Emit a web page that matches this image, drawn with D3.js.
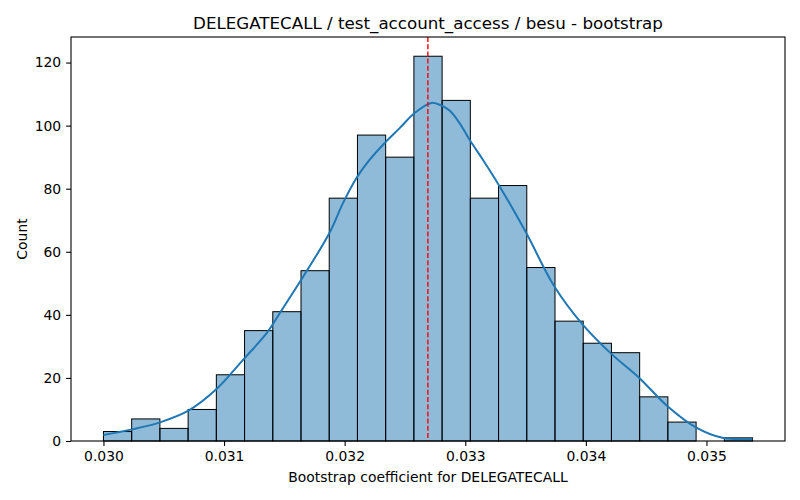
<!DOCTYPE html>
<html>
<head>
<meta charset="utf-8">
<script src="https://cdn.jsdelivr.net/npm/d3@7"></script>
<style>
  body { margin: 0; background: #fff; }
  text { font-family: "DejaVu Sans", sans-serif; fill: #000; }
</style>
</head>
<body>
<svg id="hist"></svg>
<script>
// histogram bins (bootstrap coefficient)
let binStart = 0.0300;
let binWidth = 0.000234;
let binCounts = [3, 7, 4, 10, 21, 35, 41, 54, 77, 97, 90, 122, 108, 77, 81, 55, 38, 31, 28, 14, 6, 0, 1];

// kde curve (x value, scaled count)
let kdeX = [0.03000, 0.030229, 0.030469, 0.030704, 0.030933, 0.031159, 0.031353, 0.031463,
  0.031684, 0.031877, 0.031987, 0.032098, 0.032208, 0.032332, 0.032456, 0.032580, 0.032718,
  0.032787, 0.032870, 0.032953, 0.033036, 0.033146, 0.033284, 0.033505, 0.033739, 0.033974,
  0.034209, 0.034443, 0.034677, 0.034912, 0.035132, 0.035381];
let kdeY = [1.9, 3.6, 5.9, 9.6, 16.3, 25.8, 34.2, 40.6,
  53.8, 66.2, 75.5, 83.4, 89.2, 94.5, 99.2, 104.0, 107.2,
  106.6, 104.8, 100.8, 95.5, 89.2, 80.8, 66.0, 49.0, 36.9,
  27.7, 20.0, 11.0, 4.3, 1.0, 0.6];

let meanValue = 0.03269;

let xTicks = [0.030, 0.031, 0.032, 0.033, 0.034, 0.035];
let yTicks = [0, 20, 40, 60, 80, 100, 120];

let title = 'DELEGATECALL / test_account_access / besu - bootstrap';
let xLabel = 'Bootstrap coefficient for DELEGATECALL';
let yLabel = 'Count';

// layout
let config = { svg: {}, margin: {}, plot: {} };
config.svg.width = 800;
config.svg.height = 500;
config.margin.top = 37;
config.margin.left = 71;
config.margin.right = 15;
config.margin.bottom = 59;
config.plot.width = config.svg.width - config.margin.left - config.margin.right;
config.plot.height = config.svg.height - config.margin.top - config.margin.bottom;

let svg = d3.select('#hist')
  .attr('width', config.svg.width)
  .attr('height', config.svg.height);

let bins = binCounts.map((c, i) => ({
  x0: binStart + i * binWidth,
  x1: binStart + (i + 1) * binWidth,
  count: c
}));

let dataMin = bins[0].x0;
let dataMax = bins[bins.length - 1].x1;
let pad = (dataMax - dataMin) * 0.05;

let xScale = d3.scaleLinear()
  .domain([dataMin - pad, dataMax + pad])
  .range([0, config.plot.width]);

let yMax = d3.max(binCounts) * 1.05;
let yScale = d3.scaleLinear()
  .domain([0, yMax])
  .range([config.plot.height, 0]);

let plot = svg.append('g').attr('transform', translate(config.margin.left, config.margin.top));

// bars
plot.append('g').selectAll('rect')
  .data(bins.filter(d => d.count > 0))
  .join('rect')
  .attr('x', d => xScale(d.x0))
  .attr('y', d => yScale(d.count))
  .attr('width', d => xScale(d.x1) - xScale(d.x0))
  .attr('height', d => yScale(0) - yScale(d.count))
  .attr('fill', '#1f77b4')
  .attr('fill-opacity', 0.5)
  .attr('stroke', '#000')
  .attr('stroke-width', 1);

// kde line
let kde = kdeX.map((x, i) => [x, kdeY[i]]);
plot.append('path')
  .datum(kde)
  .attr('fill', 'none')
  .attr('stroke', '#1f77b4')
  .attr('stroke-width', 2)
  .attr('d', d3.line()
    .x(d => xScale(d[0]))
    .y(d => yScale(d[1]))
    .curve(d3.curveCatmullRom.alpha(0.5)));

// mean line
plot.append('line')
  .attr('x1', xScale(meanValue))
  .attr('x2', xScale(meanValue))
  .attr('y1', 0)
  .attr('y2', config.plot.height)
  .attr('stroke', 'red')
  .attr('stroke-width', 1.4)
  .attr('stroke-dasharray', '5,2.2');

// axes
let xAxis = d3.axisBottom(xScale)
  .tickValues(xTicks)
  .tickFormat(d3.format('.3f'))
  .tickSizeInner(4.9)
  .tickSizeOuter(0)
  .tickPadding(4.9);

let yAxis = d3.axisLeft(yScale)
  .tickValues(yTicks)
  .tickSizeInner(4.9)
  .tickSizeOuter(0)
  .tickPadding(4.9);

let xGroup = plot.append('g').attr('transform', translate(0, config.plot.height)).call(xAxis);
let yGroup = plot.append('g').call(yAxis);

[xGroup, yGroup].forEach(g => {
  g.select('.domain').remove();
  g.selectAll('.tick line').attr('stroke', '#000').attr('stroke-width', 1.1);
  g.selectAll('.tick text')
    .style('font-family', '"DejaVu Sans", sans-serif')
    .style('font-size', '13.9px')
    .attr('fill', '#000');
});

// frame
plot.append('rect')
  .attr('x', 0)
  .attr('y', 0)
  .attr('width', config.plot.width)
  .attr('height', config.plot.height)
  .attr('fill', 'none')
  .attr('stroke', '#000')
  .attr('stroke-width', 1.1);

// labels
svg.append('text')
  .attr('x', config.margin.left + config.plot.width / 2)
  .attr('y', 29)
  .attr('text-anchor', 'middle')
  .style('font-size', '16.7px')
  .text(title);

svg.append('text')
  .attr('x', config.margin.left + config.plot.width / 2)
  .attr('y', 482)
  .attr('text-anchor', 'middle')
  .style('font-size', '13.9px')
  .text(xLabel);

svg.append('text')
  .attr('transform', 'translate(27,' + (config.margin.top + config.plot.height / 2) + ') rotate(-90)')
  .attr('text-anchor', 'middle')
  .style('font-size', '13.9px')
  .text(yLabel);

function translate(x, y) {
  return 'translate(' + x + ',' + y + ')';
}
</script>
</body>
</html>
